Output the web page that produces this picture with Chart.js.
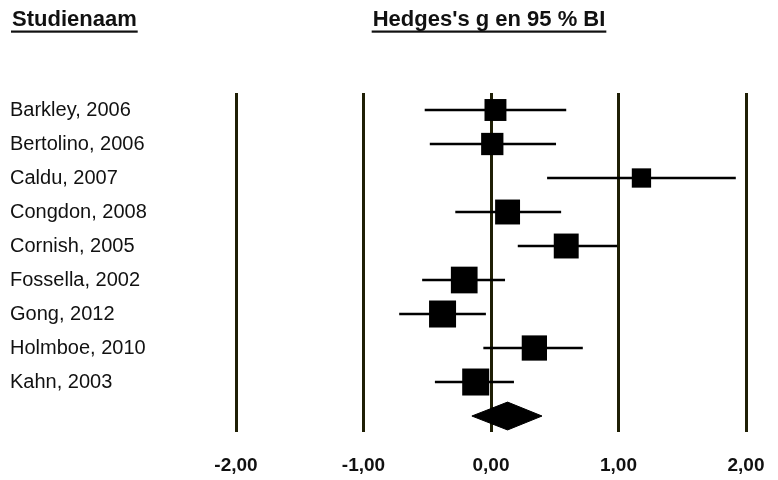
<!DOCTYPE html>
<html>
<head>
<meta charset="utf-8">
<script src="https://cdn.jsdelivr.net/npm/chart.js@4.4.1/dist/chart.umd.min.js"></script>
<style>
  html, body { margin: 0; padding: 0; background: #ffffff; }
  #wrap { width: 778px; height: 480px; }
</style>
</head>
<body>
<div id="wrap"><canvas id="c" width="778" height="480"></canvas></div>
<script>
// ---- data ----
const studies = ['Barkley, 2006', 'Bertolino, 2006', 'Caldu, 2007', 'Congdon, 2008', 'Cornish, 2005',
                 'Fossella, 2002', 'Gong, 2012', 'Holmboe, 2010', 'Kahn, 2003'];
const effect  = [0.035, 0.01, 1.18, 0.13, 0.59, -0.21, -0.38, 0.34, -0.12];
const lower   = [-0.52, -0.48, 0.44, -0.28, 0.21, -0.54, -0.72, -0.06, -0.44];
const upper   = [0.59, 0.51, 1.92, 0.55, 0.99, 0.11, -0.04, 0.72, 0.18];
const weights = [8.9, 9.2, 6.9, 11.5, 11.5, 13.2, 13.5, 11.8, 13.5];
const pooledEffect = 0.13;
const pooledLower  = -0.15;
const pooledUpper  = 0.40;
const xTicks = [-2, -1, 0, 1, 2];
const headerStudy  = 'Studienaam';
const headerEffect = "Hedges's g en 95 % BI";

// ---- styling ----
const FONT = 'Arial, "Liberation Sans", sans-serif';
const INK = '#000000';
const pooledRow = studies.length;
const diamondHalf = 0.41;

const errorBars = studies.map((s, i) => ({
  type: 'line',
  label: s,
  data: [{ x: lower[i], y: i }, { x: upper[i], y: i }],
  borderColor: INK,
  borderWidth: 2.5,
  pointRadius: 0,
  showLine: true,
  fill: false,
  order: 3
}));

const diamond = {
  type: 'line',
  label: 'pooled',
  data: [
    { x: pooledLower, y: pooledRow },
    { x: pooledEffect, y: pooledRow - diamondHalf },
    { x: pooledUpper, y: pooledRow },
    { x: pooledEffect, y: pooledRow + diamondHalf },
    { x: pooledLower, y: pooledRow }
  ],
  borderColor: INK,
  backgroundColor: INK,
  borderWidth: 1,
  pointRadius: 0,
  tension: 0,
  fill: 'shape',
  order: 2
};

const squares = {
  type: 'scatter',
  label: 'effect',
  data: effect.map((g, i) => ({ x: g, y: i })),
  pointStyle: 'rect',
  pointRadius: (ctx) => (7.35 * Math.sqrt(weights[ctx.dataIndex] || 0)) / Math.SQRT2,
  pointHoverRadius: (ctx) => (7.35 * Math.sqrt(weights[ctx.dataIndex] || 0)) / Math.SQRT2,
  backgroundColor: INK,
  borderWidth: 0,
  order: 1
};

const headerPlugin = {
  id: 'headers',
  afterDraw(chart) {
    const ctx = chart.ctx;
    ctx.save();
    ctx.fillStyle = '#111111';
    ctx.font = 'bold 22px ' + FONT;
    ctx.textBaseline = 'alphabetic';
    ctx.textAlign = 'left';
    const wEff = ctx.measureText(headerEffect).width;
    const items = [[headerStudy, 12], [headerEffect, 489 - wEff / 2]];
    items.forEach(([t, x]) => {
      ctx.fillText(t, x, 26);
      const w = ctx.measureText(t).width;
      ctx.fillRect(x - 1, 30.5, w + 2, 2.2);
    });
    ctx.restore();
  }
};

new Chart(document.getElementById('c'), {
  type: 'scatter',
  data: { datasets: [squares, diamond, ...errorBars] },
  options: {
    responsive: false,
    animation: false,
    events: [],
    layout: { padding: { left: 10, right: 32, top: 93, bottom: 0 } },
    plugins: { legend: { display: false }, tooltip: { enabled: false }, title: { display: false } },
    scales: {
      x: {
        type: 'linear',
        min: xTicks[0],
        max: xTicks[xTicks.length - 1],
        afterBuildTicks: (s) => { s.ticks = xTicks.map(v => ({ value: v })); },
        afterFit: (s) => { s.height = 48; s.paddingLeft = 0; s.paddingRight = 0; },
        grid: { color: '#1f1f05', lineWidth: 3, drawTicks: false },
        border: { display: false },
        ticks: {
          padding: 22,
          color: '#111111',
          font: { family: FONT, size: 19, weight: 'bold' },
          callback: (v) => Number(v).toFixed(2).replace('.', ',')
        }
      },
      y: {
        type: 'linear',
        reverse: true,
        min: -0.5,
        max: 9.47,
        afterBuildTicks: (s) => { s.ticks = studies.map((_, i) => ({ value: i })); },
        afterFit: (s) => { s.width = 226; s.paddingTop = 0; s.paddingBottom = 0; },
        grid: { display: false },
        border: { display: false },
        ticks: {
          crossAlign: 'far',
          padding: 0,
          color: '#111111',
          font: { family: FONT, size: 20 },
          callback: (v) => (studies[v] !== undefined ? studies[v] : '')
        }
      }
    }
  },
  plugins: [headerPlugin]
});
</script>
</body>
</html>
